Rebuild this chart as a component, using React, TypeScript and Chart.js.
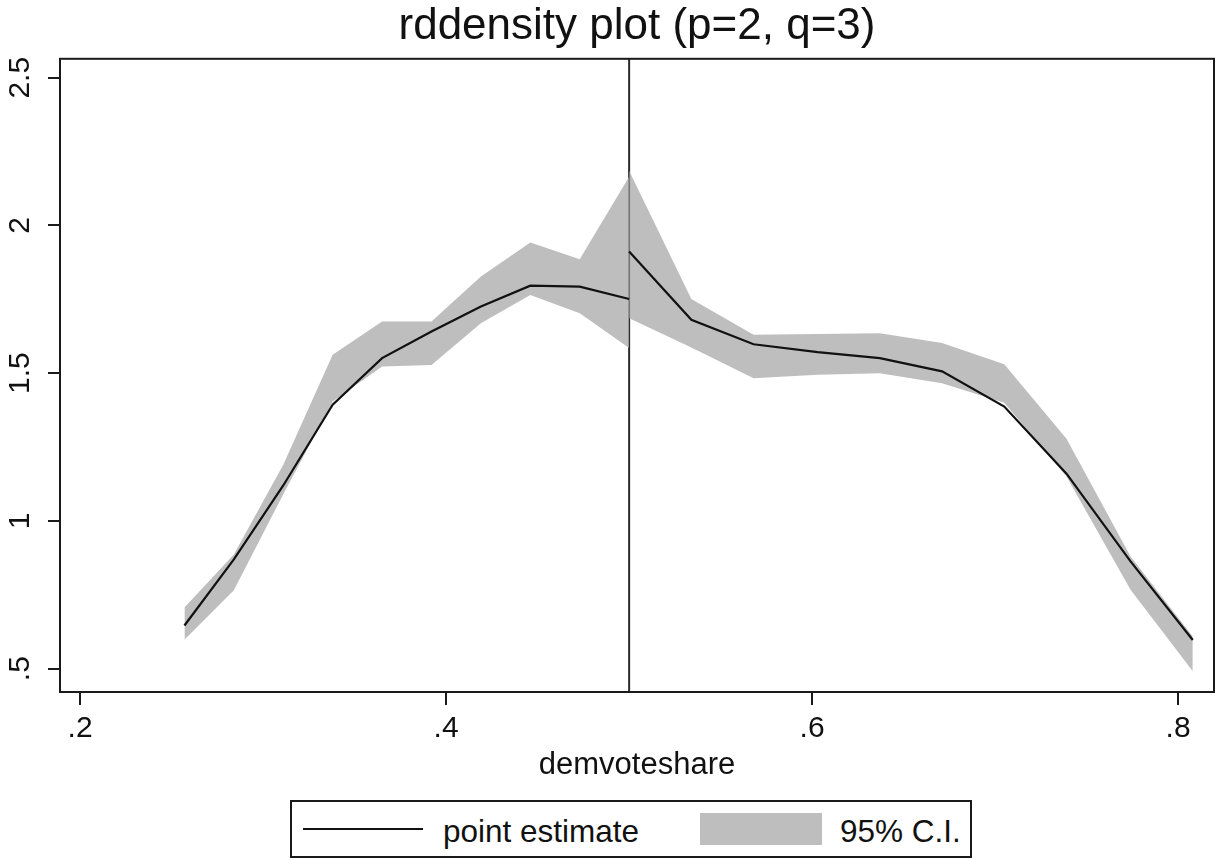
import React, { useEffect, useRef } from "react";
import { Chart, registerables } from "chart.js";

Chart.register(...registerables);

// ---------- data ----------
const cutoff = 0.5;

const xLeft = [0.257, 0.284, 0.311, 0.338, 0.365, 0.392, 0.419, 0.446, 0.473, 0.5];
const estLeft = [0.646, 0.87, 1.12, 1.393, 1.551, 1.641, 1.726, 1.796, 1.793, 1.751];
const ciLowLeft = [0.598, 0.765, 1.09, 1.404, 1.523, 1.528, 1.669, 1.765, 1.703, 1.585];
const ciHighLeft = [0.707, 0.886, 1.19, 1.562, 1.675, 1.675, 1.827, 1.942, 1.886, 2.165];

const xRight = [0.5, 0.534, 0.568, 0.603, 0.637, 0.671, 0.705, 0.739, 0.774, 0.808];
const estRight = [1.912, 1.681, 1.598, 1.571, 1.551, 1.506, 1.387, 1.16, 0.863, 0.597];
const ciLowRight = [1.686, 1.587, 1.483, 1.495, 1.5, 1.466, 1.4, 1.15, 0.767, 0.491];
const ciHighRight = [2.185, 1.751, 1.63, 1.633, 1.635, 1.602, 1.53, 1.278, 0.88, 0.609];

const xTicks = [0.2, 0.4, 0.6, 0.8];
const yTicks = [0.5, 1, 1.5, 2, 2.5];

const titleText = "rddensity plot (p=2, q=3)";
const xAxisTitle = "demvoteshare";
const legendLabels = ["point estimate", "95% C.I."];

// ---------- styling ----------
const FONT = "'Liberation Sans', Arial, Helvetica, sans-serif";
const INK = "#111111";
const FRAME = "#1a1a1a";
const BAND = "rgba(172,172,172,0.78)";
const BAND_SOLID = "#bebebe";

const fmt = (v: number): string => {
  const s = String(Number(v.toFixed(2)));
  return s.startsWith("0.") ? s.slice(1) : s;
};

const pts = (xs: number[], ys: number[]) => xs.map((x, i) => ({ x, y: ys[i] }));

const cutoffLinePlugin = {
  id: "cutoffLine",
  beforeDatasetsDraw(chart: any) {
    const { ctx, chartArea, scales } = chart;
    const px = scales.x.getPixelForValue(cutoff);
    ctx.save();
    ctx.strokeStyle = "#2a2a2a";
    ctx.lineWidth = 2;
    ctx.beginPath();
    ctx.moveTo(px, chartArea.top);
    ctx.lineTo(px, chartArea.bottom);
    ctx.stroke();
    ctx.restore();
  },
};

const framePlugin = {
  id: "plotFrame",
  afterDatasetsDraw(chart: any) {
    const { ctx, chartArea } = chart;
    ctx.save();
    ctx.strokeStyle = FRAME;
    ctx.lineWidth = 2;
    ctx.strokeRect(
      chartArea.left,
      chartArea.top,
      chartArea.right - chartArea.left,
      chartArea.bottom - chartArea.top
    );
    ctx.restore();
  },
};

export default function App() {
  const canvasRef = useRef<HTMLCanvasElement | null>(null);

  useEffect(() => {
    const canvas = canvasRef.current;
    if (!canvas) return;

    const bandBase = {
      borderWidth: 0,
      borderColor: "transparent",
      pointRadius: 0,
      pointHoverRadius: 0,
      tension: 0,
      order: 2,
    };
    const lineBase = {
      borderColor: INK,
      borderWidth: 2.2,
      pointRadius: 0,
      pointHoverRadius: 0,
      tension: 0,
      fill: false,
      order: 1,
    };

    const chart = new Chart(canvas, {
      type: "line",
      data: {
        datasets: [
          { ...bandBase, label: "ciHighLeft", data: pts(xLeft, ciHighLeft), fill: "+1", backgroundColor: BAND },
          { ...bandBase, label: "ciLowLeft", data: pts(xLeft, ciLowLeft), fill: false },
          { ...bandBase, label: "ciHighRight", data: pts(xRight, ciHighRight), fill: "+1", backgroundColor: BAND },
          { ...bandBase, label: "ciLowRight", data: pts(xRight, ciLowRight), fill: false },
          { ...lineBase, label: "estLeft", data: pts(xLeft, estLeft) },
          { ...lineBase, label: "estRight", data: pts(xRight, estRight) },
        ] as any,
      },
      options: {
        responsive: false,
        animation: false,
        devicePixelRatio: 1,
        events: [],
        layout: { padding: { left: 0, right: 11, top: 0, bottom: 75 } },
        plugins: {
          legend: { display: false },
          tooltip: { enabled: false },
          title: {
            display: true,
            text: titleText,
            fullSize: false,
            color: INK,
            font: { family: FONT, size: 44, weight: "normal" },
            padding: { top: 0, bottom: 6 },
          },
        },
        scales: {
          x: {
            type: "linear",
            min: 0.189,
            max: 0.8196,
            afterBuildTicks: (s: any) => {
              s.ticks = xTicks.map((v) => ({ value: v }));
            },
            afterFit: (s: any) => {
              s.height = 93;
            },
            ticks: {
              callback: (v: any) => fmt(Number(v)),
              autoSkip: false,
              minRotation: 0,
              maxRotation: 0,
              padding: 6,
              color: INK,
              font: { family: FONT, size: 30 },
            },
            grid: {
              display: true,
              drawOnChartArea: false,
              drawTicks: true,
              tickLength: 13,
              color: FRAME,
              lineWidth: 2,
            },
            border: { display: false },
            title: {
              display: true,
              text: xAxisTitle,
              color: INK,
              font: { family: FONT, size: 31 },
              padding: { top: 0, bottom: 1 },
            },
          },
          y: {
            type: "linear",
            min: 0.421,
            max: 2.564,
            afterBuildTicks: (s: any) => {
              s.ticks = yTicks.map((v) => ({ value: v }));
            },
            afterFit: (s: any) => {
              s.width = 60;
            },
            ticks: {
              callback: (v: any) => fmt(Number(v)),
              autoSkip: false,
              minRotation: 90,
              maxRotation: 90,
              crossAlign: "center",
              padding: 6,
              color: INK,
              font: { family: FONT, size: 30 },
            },
            grid: {
              display: true,
              drawOnChartArea: false,
              drawTicks: true,
              tickLength: 12,
              color: FRAME,
              lineWidth: 2,
            },
            border: { display: false },
          },
        },
      } as any,
      plugins: [cutoffLinePlugin, framePlugin],
    });

    return () => {
      chart.destroy();
    };
  }, []);

  const legendText: React.CSSProperties = {
    position: "absolute",
    top: 14,
    fontFamily: FONT,
    fontSize: 31.5,
    lineHeight: "31.5px",
    color: INK,
    whiteSpace: "nowrap",
  };

  return (
    <div
      style={{
        position: "fixed",
        left: 0,
        top: 0,
        width: 1225,
        height: 860,
        background: "#ffffff",
        overflow: "hidden",
      }}
    >
      <canvas
        ref={canvasRef}
        width={1225}
        height={860}
        style={{ display: "block", width: 1225, height: 860 }}
      />
      <div
        style={{
          position: "absolute",
          left: 290,
          top: 800,
          width: 682,
          height: 58,
          border: `2px solid ${FRAME}`,
          boxSizing: "border-box",
          background: "#ffffff",
        }}
      >
        <div
          style={{
            position: "absolute",
            left: 11,
            top: 26,
            width: 120,
            height: 2,
            background: INK,
          }}
        />
        <div style={{ ...legendText, left: 151 }}>{legendLabels[0]}</div>
        <div
          style={{
            position: "absolute",
            left: 408,
            top: 11,
            width: 122,
            height: 32,
            background: BAND_SOLID,
          }}
        />
        <div style={{ ...legendText, left: 548 }}>{legendLabels[1]}</div>
      </div>
    </div>
  );
}
